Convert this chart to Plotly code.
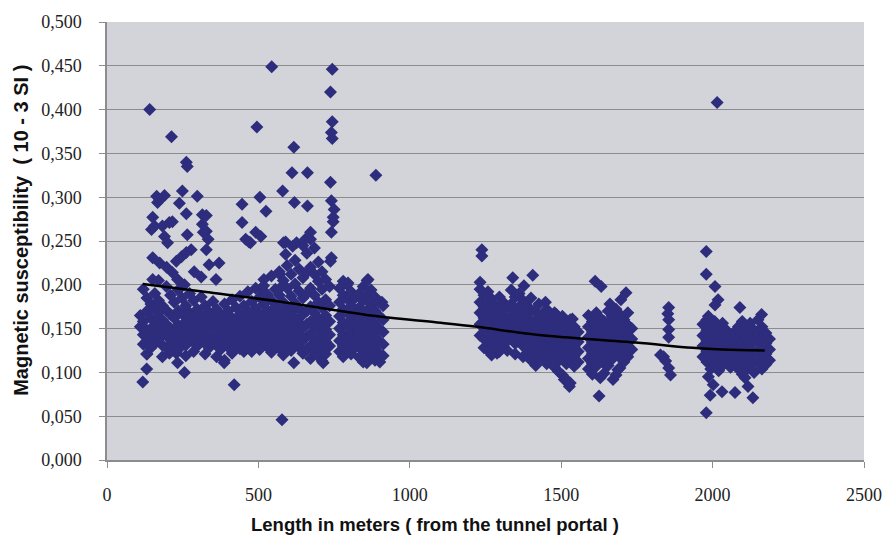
import plotly.graph_objects as go

# Magnetic susceptibility readings along the tunnel (distance in m, value in 10^-3 SI)

# Section 1 (about 110-920 m): isolated readings
sec1_points = [
    (141, .400), (213, .369), (262, .340), (265, .335),
    (164, .301), (190, .302), (167, .294), (174, .297), (249, .307), (298, .301),
    (239, .293), (262, .281), (315, .280), (328, .279),
    (151, .277), (147, .263), (157, .267), (183, .267), (206, .271), (216, .272),
    (190, .255), (200, .248), (265, .257), (315, .269), (318, .260), (328, .261),
    (334, .252), (328, .240),
    (151, .231), (174, .225), (197, .220), (216, .214), (233, .206), (256, .200),
    (229, .227), (246, .232), (262, .237), (278, .240), (288, .215), (151, .206),
    (337, .223), (370, .225), (360, .206), (311, .209),
    (446, .292), (505, .300), (525, .284), (446, .271), (469, .249), (491, .260),
    (508, .255), (458, .252), (474, .248),
    (495, .380), (544, .449), (617, .357), (611, .328), (662, .328), (580, .307),
    (619, .294), (662, .290), (590, .249), (626, .248), (655, .252), (672, .260),
    (583, .248), (590, .235), (613, .244),
    (518, .206), (508, .195), (570, .212), (577, .198),
    (744, .446), (738, .420), (744, .386), (741, .374), (744, .367), (738, .317),
    (741, .296), (750, .286), (747, .277), (747, .272), (741, .260), (741, .231),
    (738, .227),
    (888, .325), (862, .206), (796, .202), (908, .180),
    (131, .121), (131, .104), (118, .089), (206, .122), (229, .122), (233, .111),
    (256, .100), (420, .086), (578, .046), (387, .111), (452, .124), (617, .111),
    (714, .111), (858, .111), (901, .112), (583, .126),
]

# Section 1: densely sampled stretches, readings grouped by station
sec1_stations = {
    110: [.165, .152],
    120: [.195, .158, .143, .132],
    132: [.185, .170, .148, .136, .121],
    145: [.178, .162, .150, .140, .128],
    158: [.190, .172, .158, .145, .133],
    170: [.205, .182, .168, .152, .138],
    183: [.176, .160, .147, .131, .118],
    196: [.198, .171, .155, .142, .128],
    210: [.188, .166, .150, .137, .124],
    222: [.180, .162, .146, .132],
    235: [.194, .170, .154, .140, .126],
    248: [.185, .167, .151, .136],
    260: [.176, .158, .145, .131, .119],
    273: [.190, .168, .153, .139],
    286: [.182, .163, .149, .135, .124],
    298: [.172, .158, .142, .130],
    311: [.186, .166, .151, .138],
    324: [.176, .160, .147, .133, .121],
    337: [.169, .155, .140, .128],
    350: [.181, .163, .150, .137],
    362: [.172, .158, .144, .131, .118],
    375: [.166, .152, .139, .126],
    388: [.178, .160, .147, .133, .114],
    400: [.170, .156, .141, .129],
    413: [.183, .162, .149, .136, .122],
    426: [.174, .158, .143, .130],
    439: [.187, .166, .152, .139, .127],
    452: [.176, .161, .147, .133],
    465: [.192, .170, .155, .142, .128],
    478: [.181, .164, .150, .136, .124],
    491: [.196, .173, .158, .144, .131],
    504: [.186, .167, .153, .140, .126],
    517: [.199, .178, .162, .148, .135],
    530: [.189, .171, .157, .143, .129],
    543: [.210, .182, .165, .150, .137, .123],
    556: [.195, .175, .160, .146, .132],
    569: [.215, .188, .169, .154, .140, .127],
    582: [.205, .180, .164, .150, .136, .120],
    595: [.222, .196, .174, .158, .144, .130],
    608: [.212, .187, .168, .153, .139, .125],
    621: [.228, .201, .179, .162, .148, .134],
    634: [.218, .193, .173, .157, .143, .129],
    647: [.245, .208, .185, .166, .151, .137, .122],
    660: [.236, .214, .190, .170, .155, .141, .127],
    672: [.252, .220, .196, .175, .158, .144, .130, .116],
    685: [.242, .212, .188, .168, .152, .138, .124],
    698: [.226, .204, .180, .162, .148, .134, .119],
    710: [.215, .195, .174, .156, .141, .128, .113],
    722: [.206, .183, .165, .149, .135, .121],
    735: [.198, .176, .158, .143, .130],
    768: [.196, .180, .164, .150, .136, .124],
    780: [.204, .188, .172, .157, .143, .130, .118],
    793: [.200, .184, .168, .153, .139, .126],
    806: [.192, .176, .160, .146, .133, .121],
    819: [.185, .168, .154, .140, .128],
    833: [.190, .174, .159, .145, .131, .117],
    846: [.198, .182, .166, .151, .137, .124, .112],
    859: [.205, .188, .171, .156, .142, .128, .115],
    872: [.194, .178, .162, .148, .134, .121],
    885: [.186, .170, .155, .141, .127, .114],
    898: [.180, .165, .150, .136, .122],
    912: [.176, .160, .146, .132, .119],
}

# Section 2 (about 1230-1740 m)
sec2_points = [
    (1238, .240), (1238, .233), (1232, .203), (1340, .208), (1406, .211),
    (1377, .199), (1612, .204), (1632, .198), (1714, .191), (1697, .183),
    (1661, .178), (1625, .073), (1527, .084), (1510, .092), (1416, .108),
    (1383, .120), (1255, .126), (1288, .122), (1671, .092), (1687, .103),
    (1448, .180), (1484, .166), (1537, .161),
]
sec2_stations = {
    1232: [.195, .180, .168, .155, .142],
    1245: [.188, .175, .162, .150, .138, .128],
    1258: [.192, .178, .165, .152, .140],
    1270: [.184, .170, .158, .146, .133, .120],
    1283: [.176, .163, .151, .139, .127],
    1296: [.186, .172, .160, .148, .136, .124],
    1309: [.180, .166, .154, .142, .130],
    1322: [.174, .160, .148, .136, .125],
    1335: [.194, .178, .164, .152, .140],
    1348: [.186, .170, .157, .145, .133, .121],
    1361: [.190, .175, .161, .149, .137],
    1374: [.182, .167, .154, .142, .130, .118],
    1387: [.176, .162, .150, .138, .126],
    1400: [.185, .169, .156, .144, .132, .114],
    1413: [.171, .158, .146, .134, .122],
    1426: [.178, .163, .150, .138, .127, .115],
    1439: [.166, .154, .142, .131, .120],
    1452: [.172, .158, .146, .134, .123, .110],
    1465: [.162, .150, .139, .128, .116],
    1478: [.168, .155, .143, .132, .120, .106],
    1491: [.158, .147, .136, .125, .113, .101],
    1504: [.164, .151, .140, .129, .117, .097],
    1517: [.155, .144, .133, .122, .110, .092],
    1530: [.160, .148, .137, .126, .114, .088],
    1543: [.152, .141, .130, .119, .107],
    1556: [.146, .135, .124, .112],
    1590: [.165, .152, .140, .128, .116, .104],
    1603: [.158, .146, .134, .122, .110, .098],
    1616: [.168, .155, .143, .131, .119, .107],
    1629: [.162, .150, .138, .126, .114, .094],
    1642: [.158, .146, .134, .122, .110, .099],
    1655: [.170, .156, .144, .132, .120, .108],
    1668: [.164, .151, .139, .127, .115],
    1681: [.172, .158, .145, .133, .121, .097],
    1694: [.166, .153, .141, .129, .117, .105],
    1707: [.160, .148, .136, .124, .112],
    1720: [.168, .154, .142, .130, .118],
    1733: [.150, .138, .126],
}

# Section 3 (about 1830-2190 m)
sec3_points = [
    (1855, .174), (1852, .167), (1855, .160), (1855, .149), (1855, .140),
    (1828, .120), (1838, .118), (1845, .113), (1855, .105), (1861, .097),
    (1979, .238), (1979, .212), (2008, .198), (2018, .183), (2008, .177),
    (2090, .174), (2162, .166), (1986, .164), (1979, .054), (2074, .077),
    (2133, .071), (2031, .078), (1992, .074), (1986, .095), (2002, .086),
    (2107, .094), (2117, .084), (2015, .408),
]
sec3_stations = {
    1968: [.155, .142, .130, .118],
    1981: [.160, .148, .136, .124, .112],
    1994: [.152, .140, .128, .116, .104],
    2007: [.158, .146, .134, .122, .110],
    2020: [.150, .138, .126, .114, .102],
    2033: [.156, .144, .132, .120, .108],
    2046: [.148, .136, .124, .112],
    2059: [.140, .128, .117, .106],
    2072: [.146, .134, .122, .110],
    2085: [.152, .140, .128, .116, .104],
    2098: [.158, .146, .134, .122, .110, .098],
    2111: [.150, .138, .126, .114, .103],
    2124: [.156, .144, .132, .120, .108],
    2137: [.148, .136, .124, .112, .100],
    2150: [.160, .146, .134, .122, .110],
    2163: [.152, .140, .128, .116, .104],
    2176: [.145, .133, .121, .109],
    2188: [.138, .126, .114],
}

# Smoothed trend through the readings
trend_x = [118, 321, 567, 894, 1091, 1222, 1419, 1746, 1933, 2031, 2172]
trend_y = [.201, .192, .181, .164, .157, .152, .143, .134, .128, .126, .125]

# Axis ticks
x_ticks = [0, 500, 1000, 1500, 2000, 2500]
x_tick_labels = ["0", "500", "1000", "1500", "2000", "2500"]
y_ticks = [0, .05, .10, .15, .20, .25, .30, .35, .40, .45, .50]
y_tick_labels = ["0,000", "0,050", "0,100", "0,150", "0,200", "0,250",
                 "0,300", "0,350", "0,400", "0,450", "0,500"]

dist, chi = [], []
for pts in (sec1_points, sec2_points, sec3_points):
    for m, v in pts:
        dist.append(m)
        chi.append(v)
for stations in (sec1_stations, sec2_stations, sec3_stations):
    for m, vals in stations.items():
        for v in vals:
            dist.append(m)
            chi.append(v)

serif = "Times New Roman, Liberation Serif, DejaVu Serif, Noto Serif, serif"
sans = "Liberation Sans, Arial, sans-serif"

fig = go.Figure()
fig.add_trace(go.Scatter(
    x=dist, y=chi, mode="markers",
    marker=dict(symbol="diamond", size=10, color="#2e2d7d", line=dict(width=0)),
    showlegend=False, hoverinfo="x+y",
))
fig.add_trace(go.Scatter(
    x=trend_x, y=trend_y, mode="lines",
    line=dict(color="#000000", width=2.5, shape="spline"),
    showlegend=False, hoverinfo="skip",
))

fig.update_layout(
    width=894, height=537,
    margin=dict(l=107, r=23, t=22, b=77),
    paper_bgcolor="#ffffff",
    plot_bgcolor="#d2d4d9",
    font=dict(family=serif, size=18, color="#222222"),
    xaxis=dict(
        range=[0, 2500], tickvals=x_ticks, ticktext=x_tick_labels,
        tickfont=dict(family=serif, size=18, color="#222222"),
        showgrid=False, zeroline=False,
        showline=True, linecolor="#8c8c8c", linewidth=1.5,
        ticks="outside", ticklen=6, tickcolor="#8c8c8c",
        ticklabelstandoff=12,
    ),
    yaxis=dict(
        range=[0, 0.5], tickvals=y_ticks, ticktext=y_tick_labels,
        tickfont=dict(family=serif, size=18, color="#222222"),
        showgrid=True, gridcolor="#8c8c8c", gridwidth=1,
        zeroline=False,
        showline=True, linecolor="#8c8c8c", linewidth=1.5,
        ticks="outside", ticklen=6, tickcolor="#8c8c8c",
        ticklabelstandoff=14,
    ),
    annotations=[
        dict(text="<b>Length in meters ( from the tunnel portal )</b>",
             xref="paper", yref="paper", x=0.433, y=-0.148,
             xanchor="center", yanchor="middle", showarrow=False,
             font=dict(family=sans, size=18.5, color="#111111")),
        dict(text="<b>Magnetic susceptibility  ( 10 - 3 SI )</b>",
             xref="paper", yref="paper", x=-0.1139, y=0.525, textangle=-90,
             xanchor="center", yanchor="middle", showarrow=False,
             font=dict(family=sans, size=20, color="#111111")),
    ],
)

fig.write_html("out.html")
